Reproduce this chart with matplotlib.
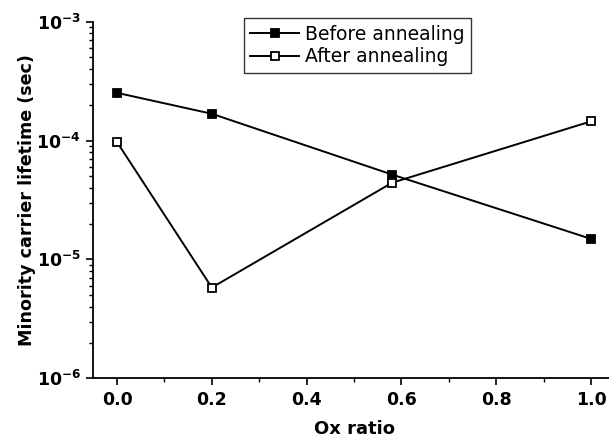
import matplotlib
matplotlib.use("Agg")
import matplotlib.pyplot as plt
from matplotlib.ticker import LogLocator, FixedLocator, MultipleLocator

# Oxygen ratio of the samples
ox_ratio = [0.0, 0.2, 0.58, 1.0]

# Minority carrier lifetime (s)
before_annealing = [2.52e-4, 1.68e-4, 5.18e-5, 1.49e-5]
after_annealing = [9.7e-5, 5.8e-6, 4.41e-5, 1.45e-4]

x_ticks = [0.0, 0.2, 0.4, 0.6, 0.8, 1.0]
x_tick_labels = ["0.0", "0.2", "0.4", "0.6", "0.8", "1.0"]
y_ticks = [1e-6, 1e-5, 1e-4, 1e-3]
y_tick_labels = [r"$\mathbf{10^{-6}}$", r"$\mathbf{10^{-5}}$",
                 r"$\mathbf{10^{-4}}$", r"$\mathbf{10^{-3}}$"]

plt.rcParams["font.family"] = ["DejaVu Sans"]
plt.rcParams["mathtext.fontset"] = "dejavusans"

fig = plt.figure(figsize=(6.09, 4.41), dpi=100)
ax = fig.add_axes([0.1533, 0.1422, 0.856, 0.8086])

ax.plot(ox_ratio, before_annealing, color="black", lw=1.4, marker="s",
        ms=6, mfc="black", mec="black", mew=1.3, label="Before annealing")
ax.plot(ox_ratio, after_annealing, color="black", lw=1.4, marker="s",
        ms=6, mfc="white", mec="black", mew=1.3, label="After annealing")

ax.set_yscale("log")
ax.set_ylim(1e-6, 1e-3)
ax.set_xlim(-0.05, 1.05)

ax.xaxis.set_major_locator(FixedLocator(x_ticks))
ax.set_xticklabels(x_tick_labels)
ax.xaxis.set_minor_locator(MultipleLocator(0.1))

ax.yaxis.set_major_locator(FixedLocator(y_ticks))
ax.set_yticklabels(y_tick_labels)
ax.yaxis.set_minor_locator(LogLocator(base=10, subs=range(2, 10)))

for lbl in ax.get_xticklabels():
    lbl.set_fontweight("bold")

ax.tick_params(axis="both", which="major", direction="out", length=5,
               width=1.2, labelsize=12.5, colors="black", pad=4)
ax.tick_params(axis="both", which="minor", direction="out", length=3,
               width=1.0)

for side in ("top", "right"):
    ax.spines[side].set_visible(False)
for side in ("left", "bottom"):
    ax.spines[side].set_linewidth(1.3)

ax.set_xlabel("Ox ratio", fontsize=13, fontweight="bold", labelpad=8)
ax.set_ylabel("Minority carrier lifetime (sec)", fontsize=12.6,
              fontweight="bold", labelpad=0.5)

leg = ax.legend(loc="upper center", bbox_to_anchor=(0.506, 1.01),
                fontsize=13.5, frameon=True, fancybox=False,
                edgecolor="black", borderpad=0.35, handlelength=2.6,
                handletextpad=0.3, labelspacing=0.2, borderaxespad=0.0,
                markerscale=0.9)
leg.get_frame().set_linewidth(1.0)

fig.savefig("out.png", dpi=100)
